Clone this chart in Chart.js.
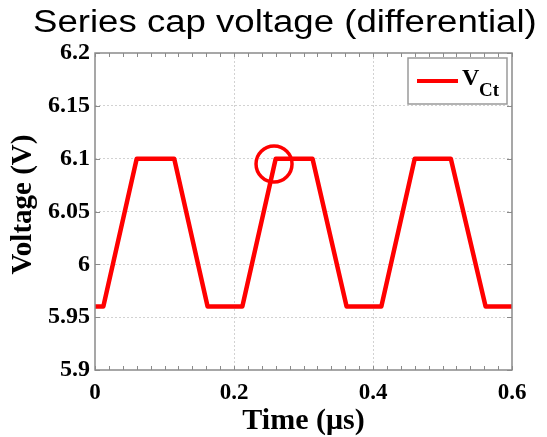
<!DOCTYPE html>
<html>
<head>
<meta charset="utf-8">
<script src="https://cdn.jsdelivr.net/npm/chart.js@4.4.1/dist/chart.umd.min.js"></script>
<style>
    html, body { margin: 0; padding: 0; background: #fff; }
    #wrap { width: 547px; height: 437px; position: relative; }
    #title {
        position: absolute; left: 33px; top: 6px;
        font-family: 'Liberation Sans', Arial, sans-serif; font-size: 31px; line-height: 31px;
        white-space: nowrap; transform-origin: 0 0; color: #000; z-index: 2;
    }
</style>
</head>
<body>
<div id="wrap">
    <span id="title">Series cap voltage (differential)</span>
    <canvas id="capChart"></canvas>
</div>
<script>
// Data
const timeUs = [0, 0.012, 0.06, 0.114, 0.162, 0.212, 0.26, 0.313, 0.362, 0.412, 0.46, 0.512, 0.562, 0.6];
const vCt = [5.96, 5.96, 6.1, 6.1, 5.96, 5.96, 6.1, 6.1, 5.96, 5.96, 6.1, 6.1, 5.96, 5.96];

// Highlighted corner (red circle)
const markTime = [0.2576];
const markVolt = [6.095];

const xTicks = [0, 0.2, 0.4, 0.6];
const yTicks = [5.9, 5.95, 6, 6.05, 6.1, 6.15, 6.2];

const serif = "'Liberation Serif', 'Times New Roman', serif";
const frameColor = '#8a8a8a';
const gridColor = '#d2d2d2';

// the original figure is a bit wider than its font, stretch the title to fit
const titleEl = document.getElementById('title');
titleEl.style.transform = 'scaleX(' + (504 / titleEl.offsetWidth) + ')';

// MATLAB style box, inward ticks, y label and the legend
const matlabFrame = {
    id: 'matlabFrame',
    afterDatasetsDraw(chart) {
        const ctx = chart.ctx;
        const area = chart.chartArea;
        const xs = chart.scales.x;
        const ys = chart.scales.y;
        ctx.save();
        ctx.strokeStyle = frameColor;
        ctx.lineWidth = 1.5;
        ctx.strokeRect(area.left, area.top, area.right - area.left, area.bottom - area.top);

        ctx.lineWidth = 1;
        // x minor ticks every 0.02
        for (let i = 0; i <= 30; i++) {
            const px = Math.round(xs.getPixelForValue(i * 0.02)) + 0.5;
            ctx.beginPath();
            ctx.moveTo(px, area.bottom);
            ctx.lineTo(px, area.bottom - 4);
            ctx.moveTo(px, area.top);
            ctx.lineTo(px, area.top + 4);
            ctx.stroke();
        }
        yTicks.forEach(v => {
            const py = Math.round(ys.getPixelForValue(v)) + 0.5;
            ctx.beginPath();
            ctx.moveTo(area.left, py);
            ctx.lineTo(area.left + 5, py);
            ctx.moveTo(area.right, py);
            ctx.lineTo(area.right - 5, py);
            ctx.stroke();
        });

        // y axis label, sits a little above the middle in the original
        ctx.save();
        ctx.translate(24, (area.top + area.bottom) / 2 - 7);
        ctx.rotate(-Math.PI / 2);
        ctx.fillStyle = '#000';
        ctx.font = 'bold 29px ' + serif;
        ctx.textAlign = 'center';
        ctx.textBaseline = 'middle';
        ctx.fillText('Voltage (V)', 0, 0);
        ctx.restore();

        // legend box
        const bx = area.right - 104;
        const by = area.top + 5;
        ctx.fillStyle = '#fff';
        ctx.fillRect(bx, by, 99, 46);
        ctx.strokeStyle = '#9a9a9a';
        ctx.lineWidth = 1.5;
        ctx.strokeRect(bx, by, 99, 46);
        ctx.strokeStyle = '#ff0000';
        ctx.lineWidth = 4;
        ctx.beginPath();
        ctx.moveTo(bx + 9, by + 23);
        ctx.lineTo(bx + 50, by + 23);
        ctx.stroke();
        ctx.fillStyle = '#000';
        ctx.textBaseline = 'alphabetic';
        ctx.textAlign = 'left';
        ctx.font = 'bold 24px ' + serif;
        ctx.fillText('V', bx + 54, by + 27);
        ctx.font = 'bold 19px ' + serif;
        ctx.fillText('Ct', bx + 71, by + 38);
        ctx.restore();
    }
};

const ctx = document.getElementById('capChart').getContext('2d');
const chart = new Chart(ctx, {
    type: 'line',
    data: {
        datasets: [{
            label: 'VCt',
            data: timeUs.map((t, i) => ({ x: t, y: vCt[i] })),
            borderColor: '#ff0000',
            borderWidth: 4.5,
            tension: 0,
            pointRadius: 0,
            borderJoinStyle: 'round',
            fill: false
        }, {
            label: 'mark',
            data: markTime.map((t, i) => ({ x: t, y: markVolt[i] })),
            showLine: false,
            pointRadius: 18,
            pointBorderWidth: 3.5,
            pointBorderColor: '#ff0000',
            pointBackgroundColor: 'rgba(0,0,0,0)'
        }]
    },
    options: {
        responsive: true,
        maintainAspectRatio: false,
        animation: false,
        layout: { padding: { left: 0, right: 35, top: 53, bottom: 0 } },
        plugins: {
            legend: { display: false },
            tooltip: { enabled: false }
        },
        scales: {
            x: {
                type: 'linear',
                min: 0,
                max: 0.6,
                afterBuildTicks: axis => { axis.ticks = xTicks.map(v => ({ value: v })); },
                afterFit: axis => { axis.height = 67; },
                border: { display: false, dash: [2, 2] },
                grid: {
                    drawTicks: false,
                    color: c => (c.index === 0 || c.index === xTicks.length - 1) ? 'rgba(0,0,0,0)' : gridColor
                },
                ticks: {
                    color: '#000',
                    padding: 9,
                    font: { family: serif, size: 23, weight: 'bold' },
                    callback: v => String(Number(v.toFixed(2)))
                },
                title: {
                    display: true,
                    text: 'Time (μs)',
                    color: '#000',
                    font: { family: serif, size: 30, weight: 'bold' },
                    padding: { top: 0, bottom: -2 }
                }
            },
            y: {
                min: 5.9,
                max: 6.2,
                afterBuildTicks: axis => { axis.ticks = yTicks.map(v => ({ value: v })); },
                afterFit: axis => { axis.width = 95; },
                border: { display: false, dash: [2, 2] },
                grid: {
                    drawTicks: false,
                    color: c => (c.index === 0 || c.index === yTicks.length - 1) ? 'rgba(0,0,0,0)' : gridColor
                },
                ticks: {
                    color: '#000',
                    padding: 5,
                    font: { family: serif, size: 24, weight: 'bold' },
                    callback: v => String(Number(v.toFixed(2)))
                },
                title: { display: false }
            }
        }
    },
    plugins: [matlabFrame]
});
</script>
</body>
</html>
